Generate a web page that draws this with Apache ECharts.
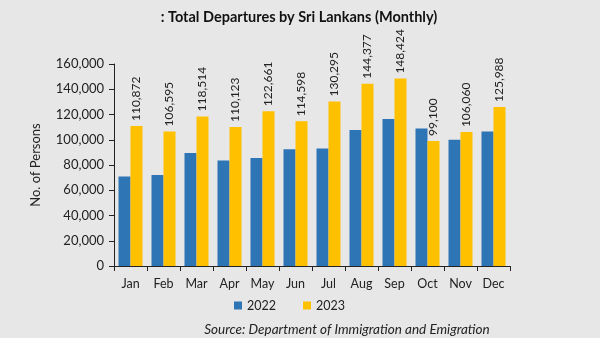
<!DOCTYPE html>
<html><head><meta charset="utf-8">
<script src="https://cdn.jsdelivr.net/npm/echarts@6/dist/echarts.min.js"></script>
<style>html,body{margin:0;padding:0;background:#e7e7e7;}#c{width:600px;height:338px;}</style>
</head><body><div id="c"></div>
<script>
const categories = ['Jan','Feb','Mar','Apr','May','Jun','Jul','Aug','Sep','Oct','Nov','Dec'];
const values2022 = [70800,72000,89500,83500,85500,92500,93000,107800,116500,109000,100000,106500];
const values2023 = [110872,106595,118514,110123,122661,114598,130295,144377,148424,99100,106060,125988];
const seriesNames = ['2022','2023'];
const FONT = 'Lato, "Open Sans", sans-serif';
const chart = echarts.init(document.getElementById('c'));
chart.setOption({
  backgroundColor:'#e7e7e7',
  animation:false,
  textStyle:{fontFamily:FONT},
  title:[{text:': Total Departures by Sri Lankans (Monthly)',left:294,top:5,textAlign:'center',
    textStyle:{fontFamily:FONT,fontSize:14.5,fontWeight:'bold',color:'#111'}},
    {text:'Source: Department of Immigration and Emigration',left:342,top:318,textAlign:'center',
    textStyle:{fontFamily:FONT,fontSize:13.5,fontStyle:'italic',fontWeight:'normal',color:'#222'}}],
  legend:{data:seriesNames,top:294,left:229,itemWidth:8,itemHeight:8,itemGap:27,icon:'rect',
    textStyle:{fontFamily:FONT,fontSize:12.5,color:'#222'}},
  grid:{left:114,right:90,top:64,bottom:72},
  xAxis:{type:'category',data:categories,
    axisLine:{lineStyle:{color:'#222'}},
    axisTick:{show:true,length:5,lineStyle:{color:'#222'}},
    axisLabel:{fontFamily:FONT,fontSize:12.5,color:'#222',margin:11}},
  yAxis:{type:'value',min:0,max:160000,interval:20000,
    name:'No. of Persons',nameLocation:'middle',nameGap:72,
    nameTextStyle:{fontFamily:FONT,fontSize:13,color:'#222'},
    axisLine:{show:true,lineStyle:{color:'#222'}},
    axisTick:{show:true,length:5,lineStyle:{color:'#222'}},
    splitLine:{show:false},
    axisLabel:{fontFamily:FONT,fontSize:13,color:'#222',margin:10,
      formatter:v=>v.toLocaleString('en-US')}},
  series:[
    {name:seriesNames[0],type:'bar',data:values2022,barWidth:12,barGap:'0%',itemStyle:{color:'#2e75b6'}},
    {name:seriesNames[1],type:'bar',data:values2023,barWidth:12,itemStyle:{color:'#ffc000'},
      label:{show:true,position:'top',rotate:90,align:'left',verticalAlign:'middle',distance:5,
        fontFamily:FONT,fontSize:12,color:'#222',formatter:p=>p.value.toLocaleString('en-US')}}
  ]
});
</script></body></html>
